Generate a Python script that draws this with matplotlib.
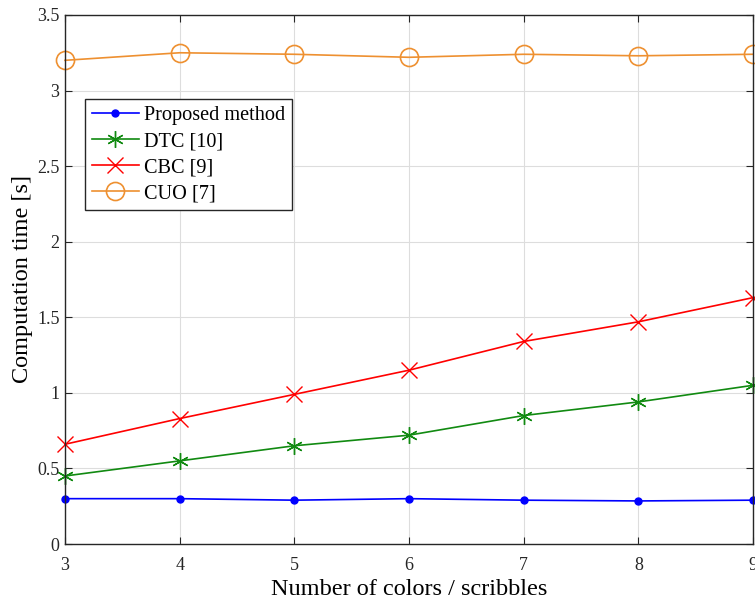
# Imports
from matplotlib import pyplot as plt

plt.rcParams['font.family'] = ['Liberation Serif', 'DejaVu Serif']

# Data
colors_x = [3, 4, 5, 6, 7, 8, 9]
proposed = [0.30, 0.30, 0.29, 0.30, 0.29, 0.285, 0.29]
dtc = [0.45, 0.55, 0.65, 0.72, 0.85, 0.94, 1.05]
cbc = [0.66, 0.83, 0.99, 1.15, 1.34, 1.47, 1.63]
cuo = [3.20, 3.25, 3.24, 3.22, 3.24, 3.23, 3.24]

# Figure
fig = plt.figure(figsize=(7.55, 5.99), dpi=100)
ax = fig.add_axes([0.0861, 0.0918, 0.9113, 0.8832])

# Plotting
ax.plot(colors_x, proposed, '-o', color='blue', markersize=5, lw=1.2, label='Proposed method', clip_on=False)
ax.plot(colors_x, dtc, '-', marker=(6, 2, 0), color='#118a11', markersize=12, mew=1.0, lw=1.2, label='DTC [10]', clip_on=False)
ax.plot(colors_x, cbc, '-x', color='red', markersize=11, mew=1.0, lw=1.2, label='CBC [9]', clip_on=False)
ax.plot(colors_x, cuo, '-o', color='#ee9030', markersize=13, mfc='none', mew=1.2, lw=1.2, label='CUO [7]', clip_on=False)

# Axes
ax.set_xlim(3, 9)
ax.set_ylim(0, 3.5)
ax.set_xticks(colors_x)
ax.set_yticks([0, 0.5, 1, 1.5, 2, 2.5, 3, 3.5])
ax.set_yticklabels(['0', '0.5', '1', '1.5', '2', '2.5', '3', '3.5'])
ax.tick_params(direction='in', top=True, right=True, labelsize=13, length=5, colors='#262626')
ax.tick_params(axis='x', pad=9)
ax.tick_params(axis='y', pad=4)
for s in ax.spines.values():
    s.set_color('#262626')
    s.set_linewidth(1.0)

# Naming
ax.set_xlabel('Number of colors / scribbles', fontsize=17.5, labelpad=4)
ax.set_ylabel('Computation time [s]', fontsize=17.5, labelpad=3)
leg = ax.legend(loc='upper left', bbox_to_anchor=(0.029, 0.841), fontsize=14.6, fancybox=False,
                edgecolor='#262626', framealpha=1, handlelength=2.3, borderpad=0.35, labelspacing=0.33,
                handletextpad=0.25, borderaxespad=0)
leg.get_frame().set_linewidth(1.0)

# Finalize
ax.grid(True, color='#dddddd', linewidth=0.8)
ax.set_axisbelow(True)

# Output
plt.savefig('out.png', dpi=100)
